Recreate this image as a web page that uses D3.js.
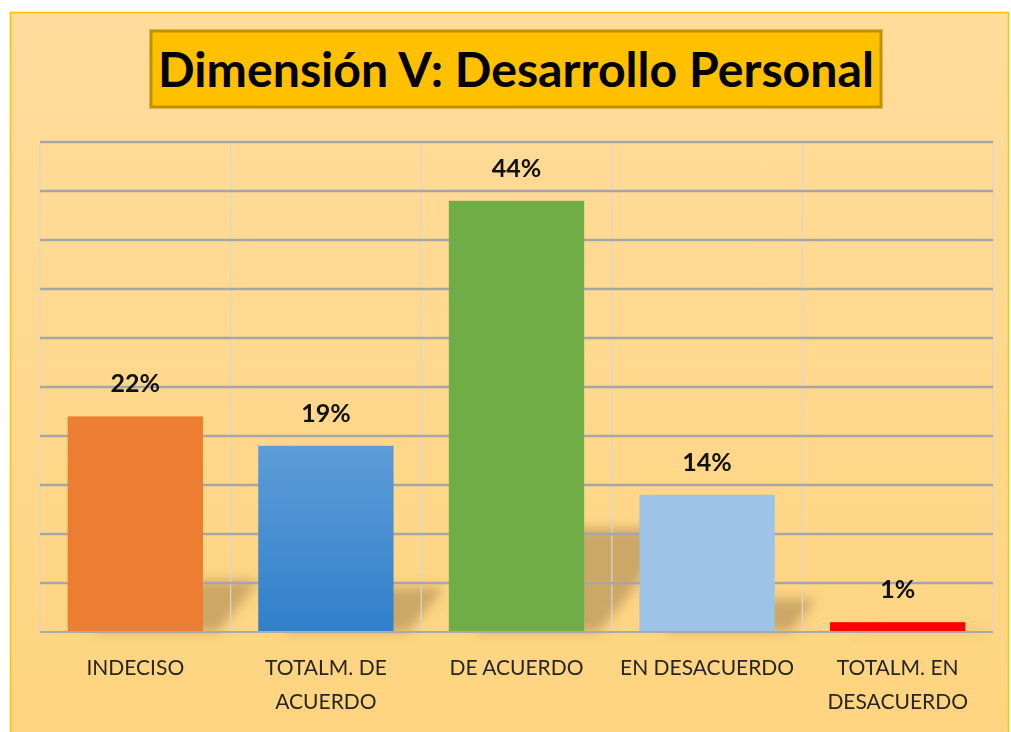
<!DOCTYPE html>
<html lang="es">
<head>
<meta charset="utf-8">
<title>Dimensión V</title>
<script src="https://d3js.org/d3.v7.min.js"></script>
<style>
  body { margin: 0; background: #fff; }
  text { font-family: Lato, "Open Sans", sans-serif; }
</style>
</head>
<body>
<div id="chart"></div>
<script>
// data
var categories = ["INDECISO", "TOTALM. DE\nACUERDO", "DE ACUERDO", "EN DESACUERDO", "TOTALM. EN\nDESACUERDO"];
var values = [22, 19, 44, 14, 1];
var barColors = ["#ED7D31", "url(#blueGrad)", "#70AD47", "#9DC3E6", "#FF0000"];
var yTicks = [0, 5, 10, 15, 20, 25, 30, 35, 40, 45, 50];
var title = "Dimensión V: Desarrollo  Personal";

var W = 1011, H = 732;
var plotLeft = 40, plotRight = 993, plotTop = 142, plotBottom = 632;

var svg = d3.select("#chart").append("svg")
  .attr("width", W).attr("height", H);

var defs = svg.append("defs");
var bg = defs.append("linearGradient").attr("id", "bgGrad")
  .attr("x1", 0).attr("y1", 0).attr("x2", 0).attr("y2", 1);
bg.append("stop").attr("offset", "0%").attr("stop-color", "#FFDC9B");
bg.append("stop").attr("offset", "100%").attr("stop-color", "#FED47F");

var bl = defs.append("linearGradient").attr("id", "blueGrad")
  .attr("x1", 0).attr("y1", 0).attr("x2", 0).attr("y2", 1);
bl.append("stop").attr("offset", "0%").attr("stop-color", "#5D9CD8");
bl.append("stop").attr("offset", "100%").attr("stop-color", "#3080CB");

defs.append("filter").attr("id", "blur")
  .attr("x", "-50%").attr("y", "-50%").attr("width", "200%").attr("height", "200%")
  .append("feGaussianBlur").attr("stdDeviation", 6);

// panel
svg.append("rect")
  .attr("x", 10.5).attr("y", 12.5).attr("width", 998).attr("height", 730)
  .attr("fill", "url(#bgGrad)").attr("stroke", "#FFC000").attr("stroke-width", 1.5);

// title box
svg.append("rect")
  .attr("x", 151).attr("y", 31).attr("width", 730).attr("height", 76)
  .attr("fill", "#FFC000").attr("stroke", "#BF9000").attr("stroke-width", 3);
svg.append("text")
  .attr("x", 516).attr("y", 87)
  .attr("text-anchor", "middle")
  .attr("font-size", 47).attr("font-weight", "bold")
  .attr("textLength", 716).attr("lengthAdjust", "spacingAndGlyphs")
  .attr("fill", "#000")
  .text(title);

// scales
var x = d3.scaleBand().domain(categories).range([plotLeft, plotRight])
  .paddingInner(0.29).paddingOuter(0.145);
var y = d3.scaleLinear().domain([0, 50]).range([plotBottom, plotTop]);

// shadows
var shadowG = svg.append("g").attr("filter", "url(#blur)");
categories.forEach(function(c, i) {
  var x0 = x(c), x1 = x(c) + x.bandwidth();
  var h = y(0) - y(values[i]);
  var hs = h * 0.24;
  var dx = hs * 0.8;
  shadowG.append("path")
    .attr("d", "M" + (x0 + 25) + "," + y(0) +
      "L" + (x1 + 15) + "," + y(0) +
      "L" + (x1 + 15 + dx) + "," + (y(0) - hs) +
      "L" + (x0 + 25 + dx) + "," + (y(0) - hs) + "Z")
    .attr("fill", "#9A7A45").attr("opacity", 0.5);
});

// vertical gridlines
var vx = categories.map(function(c) { return x(c) - x.step() * x.paddingInner() / 2; });
vx.push(plotRight);
svg.append("g").selectAll("line").data(vx).enter().append("line")
  .attr("x1", function(d) { return d; }).attr("x2", function(d) { return d; })
  .attr("y1", plotTop).attr("y2", plotBottom)
  .attr("stroke", "#D6D6D6").attr("stroke-width", 1.2);

// horizontal gridlines
svg.append("g").selectAll("line").data(yTicks.slice(1)).enter().append("line")
  .attr("x1", plotLeft).attr("x2", plotRight)
  .attr("y1", function(d) { return y(d); }).attr("y2", function(d) { return y(d); })
  .attr("stroke", "#A6A6A6").attr("stroke-width", 2.5);

// bars
svg.append("g").selectAll("rect").data(values).enter().append("rect")
  .attr("x", function(d, i) { return x(categories[i]); })
  .attr("width", x.bandwidth())
  .attr("y", function(d) { return y(d); })
  .attr("height", function(d) { return y(0) - y(d); })
  .attr("fill", function(d, i) { return barColors[i]; });

// baseline
svg.append("line")
  .attr("x1", plotLeft).attr("x2", plotRight).attr("y1", plotBottom).attr("y2", plotBottom)
  .attr("stroke", "#A9A9A9").attr("stroke-width", 2);

// value labels
svg.append("g").selectAll("text").data(values).enter().append("text")
  .attr("x", function(d, i) { return x(categories[i]) + x.bandwidth() / 2; })
  .attr("y", function(d) { return y(d) - 24; })
  .attr("text-anchor", "middle")
  .attr("font-size", 25).attr("font-weight", "bold").attr("fill", "#111")
  .text(function(d) { return d + "%"; });

// category labels
var catG = svg.append("g");
categories.forEach(function(c) {
  var t = catG.append("text")
    .attr("x", x(c) + x.bandwidth() / 2)
    .attr("y", 675)
    .attr("text-anchor", "middle")
    .attr("font-size", 21).attr("fill", "#262626");
  c.split("\n").forEach(function(line, j) {
    t.append("tspan")
      .attr("x", x(c) + x.bandwidth() / 2)
      .attr("dy", j === 0 ? 0 : 34)
      .text(line);
  });
});
</script>
</body>
</html>
